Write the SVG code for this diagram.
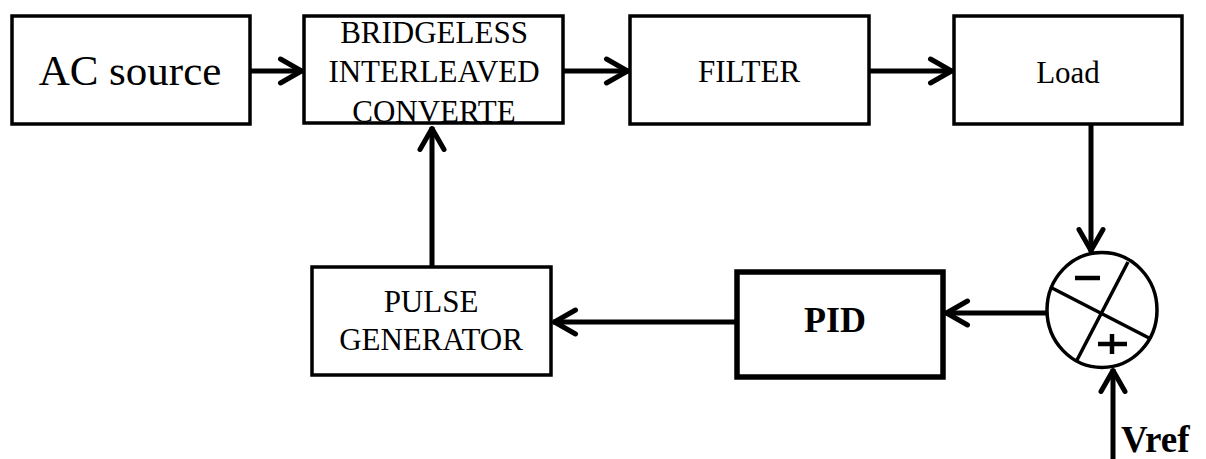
<svg xmlns="http://www.w3.org/2000/svg" width="1206" height="459" viewBox="0 0 1206 459">
<style>
.box{fill:#fff;stroke:#000;stroke-width:3.5}
.thick{stroke-width:5.5}
.lbl{font-family:"Liberation Serif","Times New Roman",serif;font-size:31px;fill:#000;text-anchor:middle}
.big{font-size:43px}
.bold{font-weight:bold}
.wire{fill:none;stroke:#000;stroke-width:5}
.sym{fill:none;stroke:#000;stroke-width:3.5}
</style>
<defs>
<marker id="ah" markerUnits="userSpaceOnUse" markerWidth="40" markerHeight="40" viewBox="-30 -20 40 40" refX="1.5" refY="0" orient="auto" overflow="visible">
<path d="M-21,-12 L0,0 L-21,12" fill="none" stroke="#000" stroke-width="5" stroke-linecap="round" stroke-linejoin="round"/>
</marker>
</defs>
<rect width="1206" height="459" fill="#fff"/>
<g id="connectors">
<path class="wire" d="M250,71 L303,71" marker-end="url(#ah)"/>
<path class="wire" d="M563,71 L629,71" marker-end="url(#ah)"/>
<path class="wire" d="M869,71 L953,71" marker-end="url(#ah)"/>
<path class="wire" d="M1091,124 L1091,252" marker-end="url(#ah)"/>
<path class="wire" d="M1047,313 L945,313" marker-end="url(#ah)"/>
<path class="wire" d="M737,322 L553,322" marker-end="url(#ah)"/>
<path class="wire" d="M432,267 L432,127" marker-end="url(#ah)"/>
<path class="wire" d="M1113,459 L1113,369" marker-end="url(#ah)"/>
</g>
<g id="ac-source">
<rect class="box" x="12" y="16" width="238" height="108"/>
<text class="lbl big" x="130" y="85">AC source</text>
</g>
<g id="converter">
<rect class="box" x="304" y="16" width="259" height="107"/>
<text class="lbl" x="434" y="43">BRIDGELESS</text>
<text class="lbl" x="434" y="82">INTERLEAVED</text>
<text class="lbl" x="434" y="122">CONVERTE</text>
</g>
<g id="filter">
<rect class="box" x="630" y="16" width="239" height="108"/>
<text class="lbl" x="749" y="82">FILTER</text>
</g>
<g id="load">
<rect class="box" x="954" y="16" width="228" height="108"/>
<text class="lbl" x="1068" y="83">Load</text>
</g>
<g id="pulse-generator">
<rect class="box" x="312" y="267" width="239" height="108"/>
<text class="lbl" x="431" y="312">PULSE</text>
<text class="lbl" x="431" y="350">GENERATOR</text>
</g>
<g id="pid">
<rect class="box thick" x="737" y="272" width="206" height="105"/>
<text class="lbl bold" x="835" y="332" style="font-size:36px">PID</text>
</g>
<g id="summer">
<ellipse class="sym" cx="1102" cy="310" rx="55" ry="57.5"/>
<line class="sym" x1="1050" y1="287" x2="1151" y2="339"/>
<line class="sym" x1="1128" y1="262" x2="1077" y2="360"/>
<line x1="1075" y1="278" x2="1100" y2="278" stroke="#000" stroke-width="4.5"/>
<line x1="1098" y1="344" x2="1127" y2="344" stroke="#000" stroke-width="4.5"/>
<line x1="1112" y1="334" x2="1112" y2="354" stroke="#000" stroke-width="4.5"/>
</g>
<g id="vref">
<text class="lbl bold" x="1121" y="452" style="font-size:37px;text-anchor:start">Vref</text>
</g>
</svg>
